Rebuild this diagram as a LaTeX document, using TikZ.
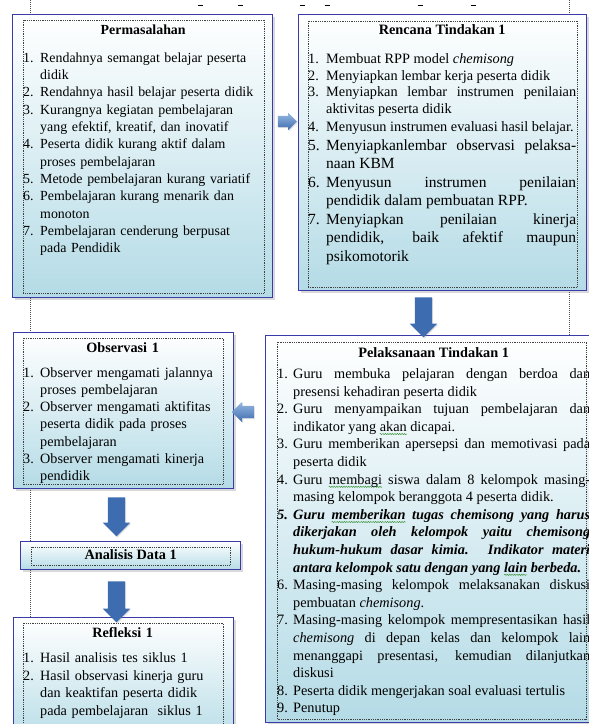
\documentclass[tikz,border=0pt]{standalone}
\usepackage{fontspec}
\setmainfont{Liberation Serif}
\usetikzlibrary{shapes.arrows,shadows,calc,decorations.pathmorphing}

\definecolor{boxline}{RGB}{58,58,168}
\definecolor{boxfill}{RGB}{180,219,230}
\definecolor{arrowlight}{RGB}{150,185,225}
\definecolor{arrowdark}{RGB}{62,108,176}
\definecolor{spellgreen}{RGB}{60,150,60}

\newlength{\numwd}
\newlength{\wavewd}
\newsavebox{\wavebox}
\newcommand{\itm}[2]{\par\hangindent=\numwd\hangafter=1\noindent\makebox[\numwd][l]{#1.}#2\par}
\newcommand{\boxhead}[2]{{\centering\textbf{#1}\par}\vspace{#2}}
\newcommand{\listfont}[2]{\fontsize{#1}{#2}\selectfont\hyphenpenalty=10000\exhyphenpenalty=10000\tolerance=10000\hbadness=10000}
\newcommand{\gwave}[1]{\sbox{\wavebox}{#1}\setlength{\wavewd}{\wd\wavebox}%
\rlap{\tikz[overlay, baseline=0pt]{\draw[spellgreen, line width=0.5pt, decorate,
  decoration={snake, amplitude=0.6pt, segment length=2.4pt}] (0pt,-2.8pt) -- (\wavewd,-2.8pt);}}\usebox{\wavebox}}

\begin{document}
\begin{tikzpicture}[x=1pt, y=-1pt]
\tikzstyle{BoxStyle}=[draw = boxline,
                      line width = 1.3pt,
                      top color = white,
                      bottom color = boxfill,
                      drop shadow = {shadow xshift=2pt, shadow yshift=-2pt, opacity=0.3},
                      anchor = north west,
                      inner sep = 0pt]
\tikzstyle{InnerStyle}=[draw = black!75, line width = 0.7pt, dash pattern = on 0.9pt off 0.9pt]
\tikzstyle{TextStyle}=[anchor = north west, inner sep = 0pt]
\tikzstyle{ArrowStyle}=[single arrow,
                        draw = none,
                        drop shadow = {shadow xshift=1pt, shadow yshift=-1pt, opacity=0.25}]
\tikzstyle{PageStyle}=[black!70, line width = 0.8pt, dash pattern = on 1pt off 1pt]

\useasboundingbox (0,0) rectangle (589,724);

% page marks
\draw[PageStyle] (30,0) -- (30,617);
\draw[PageStyle] (569,0) -- (569,335);
\foreach \x in {200,240,302,327,420,473}
  \draw[line width = 1pt] (\x-2.5,5) -- (\x+2.5,5);

% boxes
\node[BoxStyle, minimum width = 260pt, minimum height = 283pt] (perm) at (12,14) {};
\node[BoxStyle, minimum width = 288pt, minimum height = 276pt] (renc) at (298,14) {};
\node[BoxStyle, minimum width = 220pt, minimum height = 156pt] (obs) at (13,332) {};
\node[BoxStyle, minimum width = 335pt, minimum height = 387pt] (pel) at (265,335) {};
\node[BoxStyle, minimum width = 220pt, minimum height = 28pt] (anal) at (20,541) {};
\node[BoxStyle, minimum width = 220pt, minimum height = 130pt] (refl) at (13,617) {};

\draw[InnerStyle] ($(perm.north west)+(11,6)$) rectangle ($(perm.south east)+(-9,-5)$);
\draw[InnerStyle] ($(renc.north west)+(10,7)$) rectangle ($(renc.south east)+(-10,-4)$);
\draw[InnerStyle] ($(obs.north west)+(10,6)$) rectangle ($(obs.south east)+(-11,-5)$);
\draw[InnerStyle] ($(pel.north west)+(12,7)$) rectangle ($(pel.south east)+(-15,-4)$);
\draw[InnerStyle] ($(anal.north west)+(11,6)$) rectangle ($(anal.south east)+(-11,-5)$);
\draw[InnerStyle] ($(refl.north west)+(10,6)$) rectangle ($(refl.south east)+(-11,-5)$);

% texts
\node[TextStyle, text width = 240pt, align = left,
      font = \listfont{13.9pt}{17.3pt}] (permtxt) at (23,24.5) {\setlength{\numwd}{17pt}%
\boxhead{Permasalahan}{10.7pt}
\itm{1}{Rendahnya semangat belajar peserta\newline didik}
\itm{2}{Rendahnya hasil belajar peserta didik}
\itm{3}{Kurangnya kegiatan pembelajaran\newline yang efektif, kreatif, dan inovatif}
\itm{4}{Peserta didik kurang aktif dalam\newline proses pembelajaran}
\itm{5}{Metode pembelajaran kurang variatif}
\itm{6}{Pembelajaran kurang menarik dan\newline monoton}
\itm{7}{Pembelajaran cenderung berpusat\newline pada Pendidik}};

\node[TextStyle, text width = 268pt, align = justify,
      font = \listfont{14.3pt}{16.7pt}] (renctxt) at (308,24.3) {\setlength{\numwd}{18pt}%
\boxhead{Rencana Tindakan 1}{12.3pt}
\itm{1}{Membuat RPP model \textit{chemisong}}
\itm{2}{Menyiapkan lembar kerja peserta didik}
\itm{3}{Menyiapkan lembar instrumen penilaian\linebreak aktivitas peserta didik}
\vspace{1.5pt}
\itm{4}{Menyusun instrumen evaluasi hasil belajar.}
{\listfont{15.5pt}{18.5pt}%
\itm{5}{Menyiapkanlembar observasi pelaksa-\linebreak naan KBM}
\itm{6}{Menyusun instrumen penilaian\linebreak pendidik dalam pembuatan RPP.}
\itm{7}{Menyiapkan penilaian kinerja\linebreak pendidik, baik afektif maupun\linebreak psikomotorik}}};

\node[TextStyle, text width = 199pt, align = left,
      font = \listfont{14.2pt}{17.2pt}] (obstxt) at (23,342.3) {\setlength{\numwd}{17pt}%
\boxhead{Observasi 1}{7.8pt}
\itm{1}{Observer mengamati jalannya\newline proses pembelajaran}
\itm{2}{Observer mengamati aktifitas\newline peserta didik pada proses\newline pembelajaran}
\itm{3}{Observer mengamati kinerja\newline pendidik}};

\node[TextStyle, text width = 313pt, align = justify,
      font = \listfont{14.3pt}{17.6pt}] (peltxt) at (277,347.3) {\setlength{\numwd}{16pt}%
\boxhead{Pelaksanaan Tindakan 1}{3.4pt}
\itm{1}{Guru membuka pelajaran dengan berdoa dan\linebreak presensi kehadiran peserta didik}
\itm{2}{Guru menyampaikan tujuan pembelajaran dan\linebreak indikator yang \gwave{akan} dicapai.}
\itm{3}{Guru memberikan apersepsi dan memotivasi pada\linebreak peserta didik}
\itm{4}{Guru \gwave{membagi} siswa dalam 8 kelompok masing-\linebreak masing kelompok beranggota 4 peserta didik.}
{\bfseries\itshape
\itm{5}{Guru \gwave{memberikan} tugas chemisong yang harus\linebreak dikerjakan oleh kelompok yaitu chemisong\linebreak hukum-hukum dasar kimia. Indikator materi\linebreak antara kelompok satu dengan yang \gwave{lain} berbeda.}}
\itm{6}{Masing-masing kelompok melaksanakan diskusi\linebreak pembuatan \textit{chemisong}.}
\itm{7}{Masing-masing kelompok mempresentasikan hasil\linebreak \textit{chemisong} di depan kelas dan kelompok lain\linebreak menanggapi presentasi, kemudian dilanjutkan\linebreak diskusi}
\itm{8}{Peserta didik mengerjakan soal evaluasi tertulis}
\itm{9}{Penutup}};

\node[font = \fontsize{14.3pt}{17pt}\selectfont\bfseries, inner sep = 0pt] (analtxt) at ($(anal.center)+(0,-1)$) {Analisis Data 1};

\node[TextStyle, text width = 199pt, align = left,
      font = \listfont{14.2pt}{17.7pt}] (refltxt) at (23,627.3) {\setlength{\numwd}{17pt}%
\boxhead{Refleksi 1}{7.3pt}
\itm{1}{Hasil analisis tes siklus 1}
\itm{2}{Hasil observasi kinerja guru\newline dan keaktifan peserta didik\newline pada pembelajaran\ \ siklus 1}};

% block arrows
\node[ArrowStyle, inner sep = 5.5pt, single arrow head extend = 3pt, minimum height = 19pt,
      top color = arrowlight, bottom color = arrowdark] (toRenc) at (284.5,121.5) {};
\node[ArrowStyle, inner sep = 8.5pt, single arrow head extend = 5pt, minimum height = 40pt,
      shape border rotate = 270, left color = arrowdark, middle color = arrowlight,
      right color = arrowdark] (toPel) at (423.5,313) {};
\node[ArrowStyle, inner sep = 6pt, single arrow head extend = 4pt, minimum height = 22pt,
      shape border rotate = 180, top color = arrowlight, bottom color = arrowdark] (toObs) at (246,412) {};
\node[ArrowStyle, inner sep = 8.5pt, single arrow head extend = 5pt, minimum height = 39pt,
      shape border rotate = 270, left color = arrowdark, middle color = arrowlight,
      right color = arrowdark] (toAnal) at (116.5,512.5) {};
\node[ArrowStyle, inner sep = 8.5pt, single arrow head extend = 5pt, minimum height = 41pt,
      shape border rotate = 270, left color = arrowdark, middle color = arrowlight,
      right color = arrowdark] (toRefl) at (116.5,597.5) {};
\end{tikzpicture}
\end{document}
